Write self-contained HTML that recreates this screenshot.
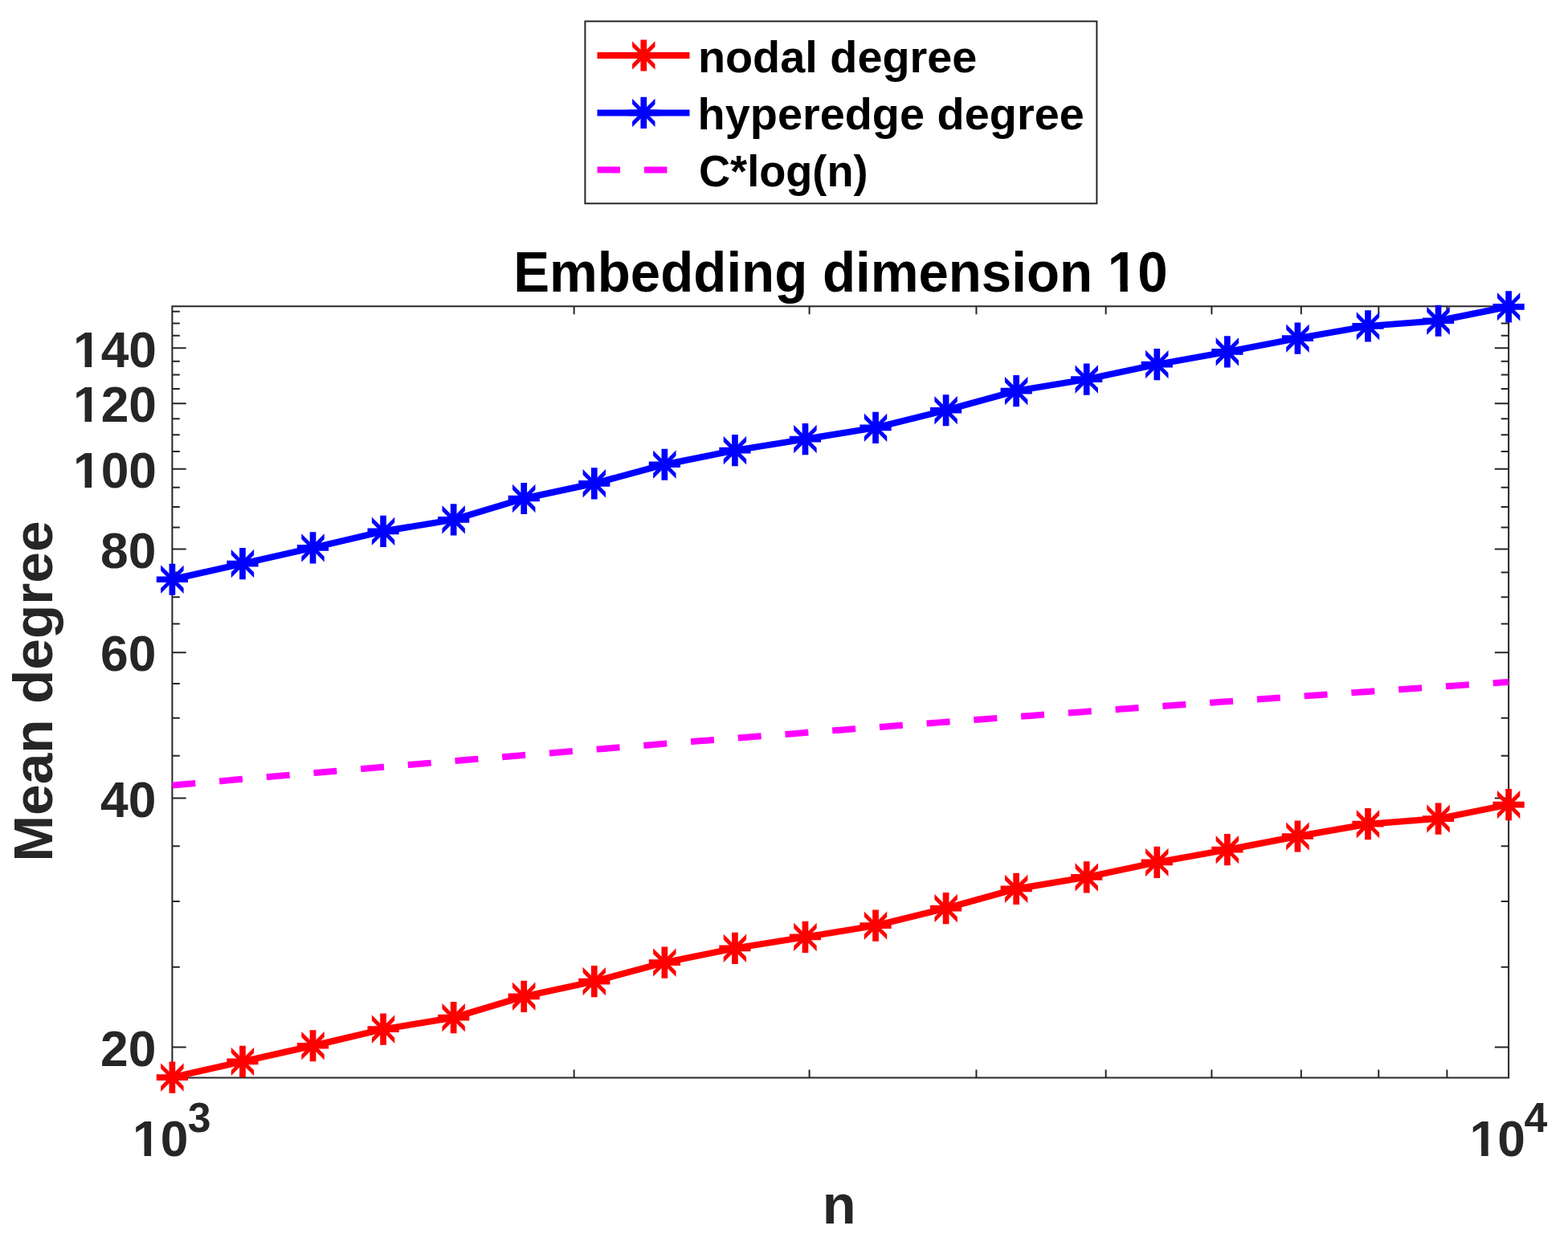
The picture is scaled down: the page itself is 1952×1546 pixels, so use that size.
<!DOCTYPE html><html><head><meta charset="utf-8"><title>Embedding dimension 10</title><style>html,body{margin:0;padding:0;background:#fff;}svg{display:block;}text{font-family:"Liberation Sans",Arial,Helvetica,sans-serif;font-weight:bold;}</style></head><body>
<svg width="1952" height="1546" viewBox="0 0 1952 1546">
<rect width="1952" height="1546" fill="#fff"/>
<defs><clipPath id="sqc"><rect x="-14.20" y="-30" width="28.40" height="60"/></clipPath><g id="st"><path d="M-19.6 0H19.6M0 -19.6V19.6" stroke-width="7.7" fill="none"/><path d="M-20.2 -20.2L20.2 20.2M-20.2 20.2L20.2 -20.2" stroke-width="4.9" fill="none" clip-path="url(#sqc)"/></g></defs>
<rect x="728.4" y="26.5" width="637.0" height="226.8" fill="#fff" stroke="#262626" stroke-width="2"/>
<path d="M743.5 69.0H858.5" stroke="#f00" stroke-width="8.0"/>
<use href="#st" x="801.30" y="69.00" fill="#f00" stroke="#f00"/>
<path d="M743.5 140.4H858.5" stroke="#00f" stroke-width="8.0"/>
<use href="#st" x="801.30" y="140.40" fill="#00f" stroke="#00f"/>
<path d="M743.5 211.4H858.5" stroke="#f0f" stroke-width="8.0" stroke-dasharray="28.5 29.9"/>
<text transform="translate(868.9 90) scale(1.0062 1)" font-size="55.5" fill="#000">nodal degree</text>
<text transform="translate(868.57 161.2) scale(1.0068 1)" font-size="55.5" fill="#000">hyperedge degree</text>
<text transform="translate(869.95 232) scale(0.9763 1)" font-size="55.5" fill="#000">C*log(n)</text>
<text transform="translate(639.17 363) scale(0.9606 1)" font-size="70" fill="#000">Embedding dimension 10</text>
<rect x="214.4" y="381.3" width="1663.70" height="960.20" fill="none" stroke="#262626" stroke-width="2"/>
<path d="M214.4 1303.40h17.3M1878.1 1303.40h-17.3M214.4 1203.63h9.4M1878.1 1203.63h-9.4M214.4 1122.11h9.4M1878.1 1122.11h-9.4M214.4 1053.19h9.4M1878.1 1053.19h-9.4M214.4 993.49h17.3M1878.1 993.49h-17.3M214.4 940.83h9.4M1878.1 940.83h-9.4M214.4 893.72h9.4M1878.1 893.72h-9.4M214.4 851.11h9.4M1878.1 851.11h-9.4M214.4 812.20h17.3M1878.1 812.20h-17.3M214.4 776.42h9.4M1878.1 776.42h-9.4M214.4 743.28h9.4M1878.1 743.28h-9.4M214.4 712.43h9.4M1878.1 712.43h-9.4M214.4 683.58h17.3M1878.1 683.58h-17.3M214.4 656.47h9.4M1878.1 656.47h-9.4M214.4 630.92h9.4M1878.1 630.92h-9.4M214.4 606.74h9.4M1878.1 606.74h-9.4M214.4 583.81h17.3M1878.1 583.81h-17.3M214.4 562.00h9.4M1878.1 562.00h-9.4M214.4 541.20h9.4M1878.1 541.20h-9.4M214.4 521.32h9.4M1878.1 521.32h-9.4M214.4 502.29h17.3M1878.1 502.29h-17.3M214.4 484.04h9.4M1878.1 484.04h-9.4M214.4 466.51h9.4M1878.1 466.51h-9.4M214.4 449.63h9.4M1878.1 449.63h-9.4M214.4 433.37h17.3M1878.1 433.37h-17.3M214.4 417.68h9.4M1878.1 417.68h-9.4M214.4 402.52h9.4M1878.1 402.52h-9.4M214.4 387.86h9.4M1878.1 387.86h-9.4M714.62 1341.5v-10.0M714.62 381.3v10.0M1007.59 1341.5v-10.0M1007.59 381.3v10.0M1215.45 1341.5v-10.0M1215.45 381.3v10.0M1376.68 1341.5v-10.0M1376.68 381.3v10.0M1508.41 1341.5v-10.0M1508.41 381.3v10.0M1619.79 1341.5v-10.0M1619.79 381.3v10.0M1716.27 1341.5v-10.0M1716.27 381.3v10.0M1801.37 1341.5v-10.0M1801.37 381.3v10.0" stroke="#262626" stroke-width="2" fill="none"/>
<text x="125" y="1326.5" font-size="62.3" fill="#262626">20</text>
<text x="125" y="1016.6" font-size="62.3" fill="#262626">40</text>
<text x="125" y="835.3" font-size="62.3" fill="#262626">60</text>
<text x="125" y="706.7" font-size="62.3" fill="#262626">80</text>
<text x="91" y="606.9" font-size="62.3" fill="#262626">100</text>
<text x="91" y="525.4" font-size="62.3" fill="#262626">120</text>
<text x="91" y="456.5" font-size="62.3" fill="#262626">140</text>
<text x="165" y="1438.9" font-size="62.3" fill="#262626">10</text><text x="233.8" y="1409.3" font-size="51.8" fill="#262626">3</text>
<text x="1829.6" y="1438.9" font-size="62.3" fill="#262626">10</text><text x="1897.5" y="1408.8" font-size="51.8" fill="#262626">4</text>
<text x="1023.8" y="1522.8" font-size="68.5" fill="#262626">n</text>
<text transform="translate(64.9 1072.7) rotate(-90)" font-size="69.4" fill="#262626">Mean degree</text>
<path d="M214.40 977.61L223.16 976.82L231.91 976.04L240.67 975.26L249.43 974.48L258.18 973.70L266.94 972.92L275.69 972.15L284.45 971.37L293.21 970.60L301.96 969.83L310.72 969.06L319.48 968.29L328.23 967.52L336.99 966.76L345.74 965.99L354.50 965.23L363.26 964.47L372.01 963.71L380.77 962.95L389.53 962.19L398.28 961.43L407.04 960.67L415.80 959.92L424.55 959.17L433.31 958.41L442.06 957.66L450.82 956.91L459.58 956.17L468.33 955.42L477.09 954.67L485.85 953.93L494.60 953.18L503.36 952.44L512.11 951.70L520.87 950.96L529.63 950.22L538.38 949.49L547.14 948.75L555.90 948.02L564.65 947.28L573.41 946.55L582.17 945.82L590.92 945.09L599.68 944.36L608.43 943.63L617.19 942.91L625.95 942.18L634.70 941.46L643.46 940.73L652.22 940.01L660.97 939.29L669.73 938.57L678.48 937.85L687.24 937.14L696.00 936.42L704.75 935.71L713.51 934.99L722.27 934.28L731.02 933.57L739.78 932.86L748.54 932.15L757.29 931.44L766.05 930.73L774.80 930.03L783.56 929.32L792.32 928.62L801.07 927.92L809.83 927.22L818.59 926.52L827.34 925.82L836.10 925.12L844.85 924.42L853.61 923.73L862.37 923.03L871.12 922.34L879.88 921.65L888.64 920.95L897.39 920.26L906.15 919.57L914.91 918.89L923.66 918.20L932.42 917.51L941.17 916.83L949.93 916.14L958.69 915.46L967.44 914.78L976.20 914.10L984.96 913.42L993.71 912.74L1002.47 912.06L1011.22 911.38L1019.98 910.71L1028.74 910.03L1037.49 909.36L1046.25 908.68L1055.01 908.01L1063.76 907.34L1072.52 906.67L1081.28 906.00L1090.03 905.34L1098.79 904.67L1107.54 904.00L1116.30 903.34L1125.06 902.67L1133.81 902.01L1142.57 901.35L1151.33 900.69L1160.08 900.03L1168.84 899.37L1177.59 898.71L1186.35 898.05L1195.11 897.40L1203.86 896.74L1212.62 896.09L1221.38 895.44L1230.13 894.78L1238.89 894.13L1247.65 893.48L1256.40 892.83L1265.16 892.18L1273.91 891.54L1282.67 890.89L1291.43 890.24L1300.18 889.60L1308.94 888.96L1317.70 888.31L1326.45 887.67L1335.21 887.03L1343.96 886.39L1352.72 885.75L1361.48 885.11L1370.23 884.48L1378.99 883.84L1387.75 883.20L1396.50 882.57L1405.26 881.94L1414.02 881.30L1422.77 880.67L1431.53 880.04L1440.28 879.41L1449.04 878.78L1457.80 878.15L1466.55 877.52L1475.31 876.90L1484.07 876.27L1492.82 875.65L1501.58 875.02L1510.33 874.40L1519.09 873.78L1527.85 873.16L1536.60 872.54L1545.36 871.92L1554.12 871.30L1562.87 870.68L1571.63 870.06L1580.39 869.45L1589.14 868.83L1597.90 868.22L1606.65 867.60L1615.41 866.99L1624.17 866.38L1632.92 865.77L1641.68 865.15L1650.44 864.55L1659.19 863.94L1667.95 863.33L1676.70 862.72L1685.46 862.12L1694.22 861.51L1702.97 860.91L1711.73 860.30L1720.49 859.70L1729.24 859.10L1738.00 858.50L1746.76 857.89L1755.51 857.29L1764.27 856.70L1773.02 856.10L1781.78 855.50L1790.54 854.90L1799.29 854.31L1808.05 853.71L1816.81 853.12L1825.56 852.53L1834.32 851.93L1843.07 851.34L1851.83 850.75L1860.59 850.16L1869.34 849.57L1878.10 848.98" stroke="#f0f" stroke-width="8.0" fill="none" stroke-dasharray="29 29.9"/>
<path d="M214.40 1341.05L301.96 1321.40L389.53 1301.75L477.09 1281.10L564.65 1266.70L652.22 1240.30L739.78 1221.60L827.34 1198.05L914.91 1180.40L1002.47 1166.40L1090.03 1152.15L1177.59 1130.55L1265.16 1106.40L1352.72 1091.90L1440.28 1073.40L1527.85 1057.70L1615.41 1041.00L1702.97 1025.70L1790.54 1019.05L1878.10 1001.60" stroke="#f00" stroke-width="8.0" fill="none" stroke-linejoin="round"/>
<use href="#st" x="214.40" y="1341.05" fill="#f00" stroke="#f00"/>
<use href="#st" x="301.96" y="1321.40" fill="#f00" stroke="#f00"/>
<use href="#st" x="389.53" y="1301.75" fill="#f00" stroke="#f00"/>
<use href="#st" x="477.09" y="1281.10" fill="#f00" stroke="#f00"/>
<use href="#st" x="564.65" y="1266.70" fill="#f00" stroke="#f00"/>
<use href="#st" x="652.22" y="1240.30" fill="#f00" stroke="#f00"/>
<use href="#st" x="739.78" y="1221.60" fill="#f00" stroke="#f00"/>
<use href="#st" x="827.34" y="1198.05" fill="#f00" stroke="#f00"/>
<use href="#st" x="914.91" y="1180.40" fill="#f00" stroke="#f00"/>
<use href="#st" x="1002.47" y="1166.40" fill="#f00" stroke="#f00"/>
<use href="#st" x="1090.03" y="1152.15" fill="#f00" stroke="#f00"/>
<use href="#st" x="1177.59" y="1130.55" fill="#f00" stroke="#f00"/>
<use href="#st" x="1265.16" y="1106.40" fill="#f00" stroke="#f00"/>
<use href="#st" x="1352.72" y="1091.90" fill="#f00" stroke="#f00"/>
<use href="#st" x="1440.28" y="1073.40" fill="#f00" stroke="#f00"/>
<use href="#st" x="1527.85" y="1057.70" fill="#f00" stroke="#f00"/>
<use href="#st" x="1615.41" y="1041.00" fill="#f00" stroke="#f00"/>
<use href="#st" x="1702.97" y="1025.70" fill="#f00" stroke="#f00"/>
<use href="#st" x="1790.54" y="1019.05" fill="#f00" stroke="#f00"/>
<use href="#st" x="1878.10" y="1001.60" fill="#f00" stroke="#f00"/>
<path d="M214.40 721.23L301.96 701.58L389.53 681.93L477.09 661.28L564.65 646.88L652.22 620.48L739.78 601.78L827.34 578.23L914.91 560.58L1002.47 546.58L1090.03 532.33L1177.59 510.73L1265.16 486.58L1352.72 472.08L1440.28 453.58L1527.85 437.88L1615.41 421.18L1702.97 405.88L1790.54 399.23L1878.10 381.78" stroke="#00f" stroke-width="8.0" fill="none" stroke-linejoin="round"/>
<use href="#st" x="214.40" y="721.23" fill="#00f" stroke="#00f"/>
<use href="#st" x="301.96" y="701.58" fill="#00f" stroke="#00f"/>
<use href="#st" x="389.53" y="681.93" fill="#00f" stroke="#00f"/>
<use href="#st" x="477.09" y="661.28" fill="#00f" stroke="#00f"/>
<use href="#st" x="564.65" y="646.88" fill="#00f" stroke="#00f"/>
<use href="#st" x="652.22" y="620.48" fill="#00f" stroke="#00f"/>
<use href="#st" x="739.78" y="601.78" fill="#00f" stroke="#00f"/>
<use href="#st" x="827.34" y="578.23" fill="#00f" stroke="#00f"/>
<use href="#st" x="914.91" y="560.58" fill="#00f" stroke="#00f"/>
<use href="#st" x="1002.47" y="546.58" fill="#00f" stroke="#00f"/>
<use href="#st" x="1090.03" y="532.33" fill="#00f" stroke="#00f"/>
<use href="#st" x="1177.59" y="510.73" fill="#00f" stroke="#00f"/>
<use href="#st" x="1265.16" y="486.58" fill="#00f" stroke="#00f"/>
<use href="#st" x="1352.72" y="472.08" fill="#00f" stroke="#00f"/>
<use href="#st" x="1440.28" y="453.58" fill="#00f" stroke="#00f"/>
<use href="#st" x="1527.85" y="437.88" fill="#00f" stroke="#00f"/>
<use href="#st" x="1615.41" y="421.18" fill="#00f" stroke="#00f"/>
<use href="#st" x="1702.97" y="405.88" fill="#00f" stroke="#00f"/>
<use href="#st" x="1790.54" y="399.23" fill="#00f" stroke="#00f"/>
<use href="#st" x="1878.10" y="381.78" fill="#00f" stroke="#00f"/>
<path d="M1381.90 354.86H1394.56V364.50H1381.90ZM1403.79 354.86H1415.59V364.50H1403.79Z" fill="#fff"/>
<path d="M93.72 599.55H105.54V608.41H93.72ZM114.09 599.55H125.11V608.41H114.09Z" fill="#fff"/>
<path d="M93.72 518.04H105.54V526.89H93.72ZM114.09 518.04H125.11V526.89H114.09Z" fill="#fff"/>
<path d="M93.72 449.11H105.54V457.97H93.72ZM114.09 449.11H125.11V457.97H114.09Z" fill="#fff"/>
<path d="M167.72 1431.54H179.54V1440.40H167.72ZM188.09 1431.54H199.11V1440.40H188.09Z" fill="#fff"/>
<path d="M1832.32 1431.54H1844.14V1440.40H1832.32ZM1852.69 1431.54H1863.71V1440.40H1852.69Z" fill="#fff"/>
</svg></body></html>
